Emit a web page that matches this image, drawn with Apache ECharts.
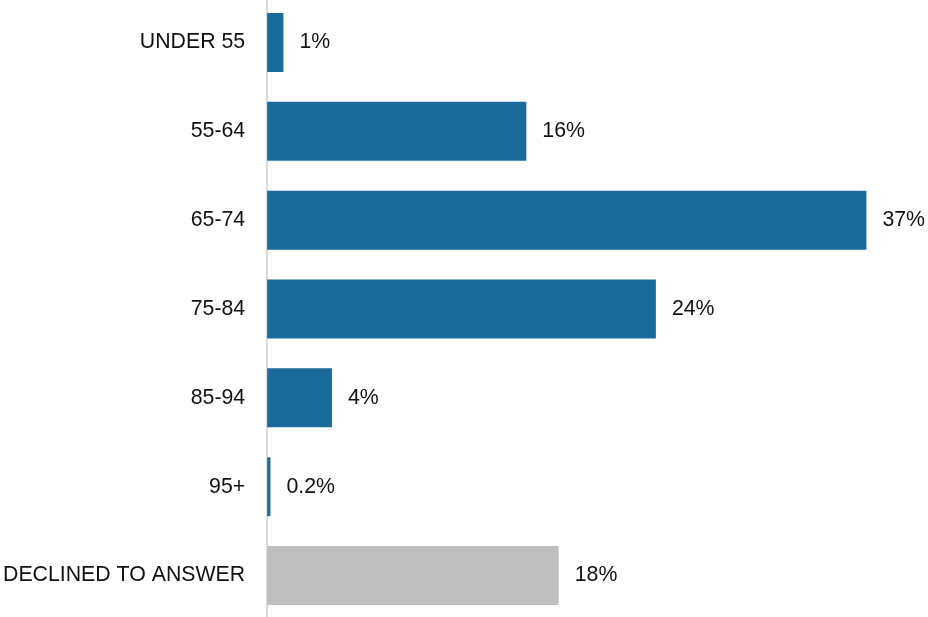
<!DOCTYPE html>
<html><head><meta charset="utf-8">
<script src="https://cdn.jsdelivr.net/npm/echarts@6/dist/echarts.min.js"></script>
<style>html,body{margin:0;padding:0;background:#fff;overflow:hidden;width:928px;height:617px;position:relative}#c{position:absolute;left:0;top:-2px;width:928px;height:622px}</style>
</head><body><div id="c"></div>
<script>
const categories = ["UNDER 55", "55-64", "65-74", "75-84", "85-94", "95+", "DECLINED TO ANSWER"];
const values = [1, 16, 37, 24, 4, 0.2, 18];
const labels = ["1%", "16%", "37%", "24%", "4%", "0.2%", "18%"];
const colors = ["#1a6b9c", "#1a6b9c", "#1a6b9c", "#1a6b9c", "#1a6b9c", "#1a6b9c", "#bfbfbf"];

const FONT = '"Liberation Sans", Arial, sans-serif';
const chart = echarts.init(document.getElementById('c'));
chart.setOption({
  animation: false,
  grid: { left: 267, right: 13, top: 0, bottom: 0, containLabel: false },
  xAxis: { type: 'value', min: 0, max: 40, show: false },
  yAxis: {
    type: 'category', data: categories, inverse: true,
    axisLine: { show: true, lineStyle: { color: '#d9d9d9', width: 2 } },
    axisTick: { show: false },
    axisLabel: { color: '#111', fontSize: 21.3, fontFamily: FONT, margin: 22 }
  },
  series: [{
    type: 'bar', barWidth: 59,
    data: values.map((v, i) => ({ value: v, itemStyle: { color: colors[i] } })),
    label: {
      show: true, position: 'right', distance: 16,
      color: '#111', fontSize: 21.3, fontFamily: FONT,
      formatter: p => labels[p.dataIndex]
    }
  }]
});
</script></body></html>
